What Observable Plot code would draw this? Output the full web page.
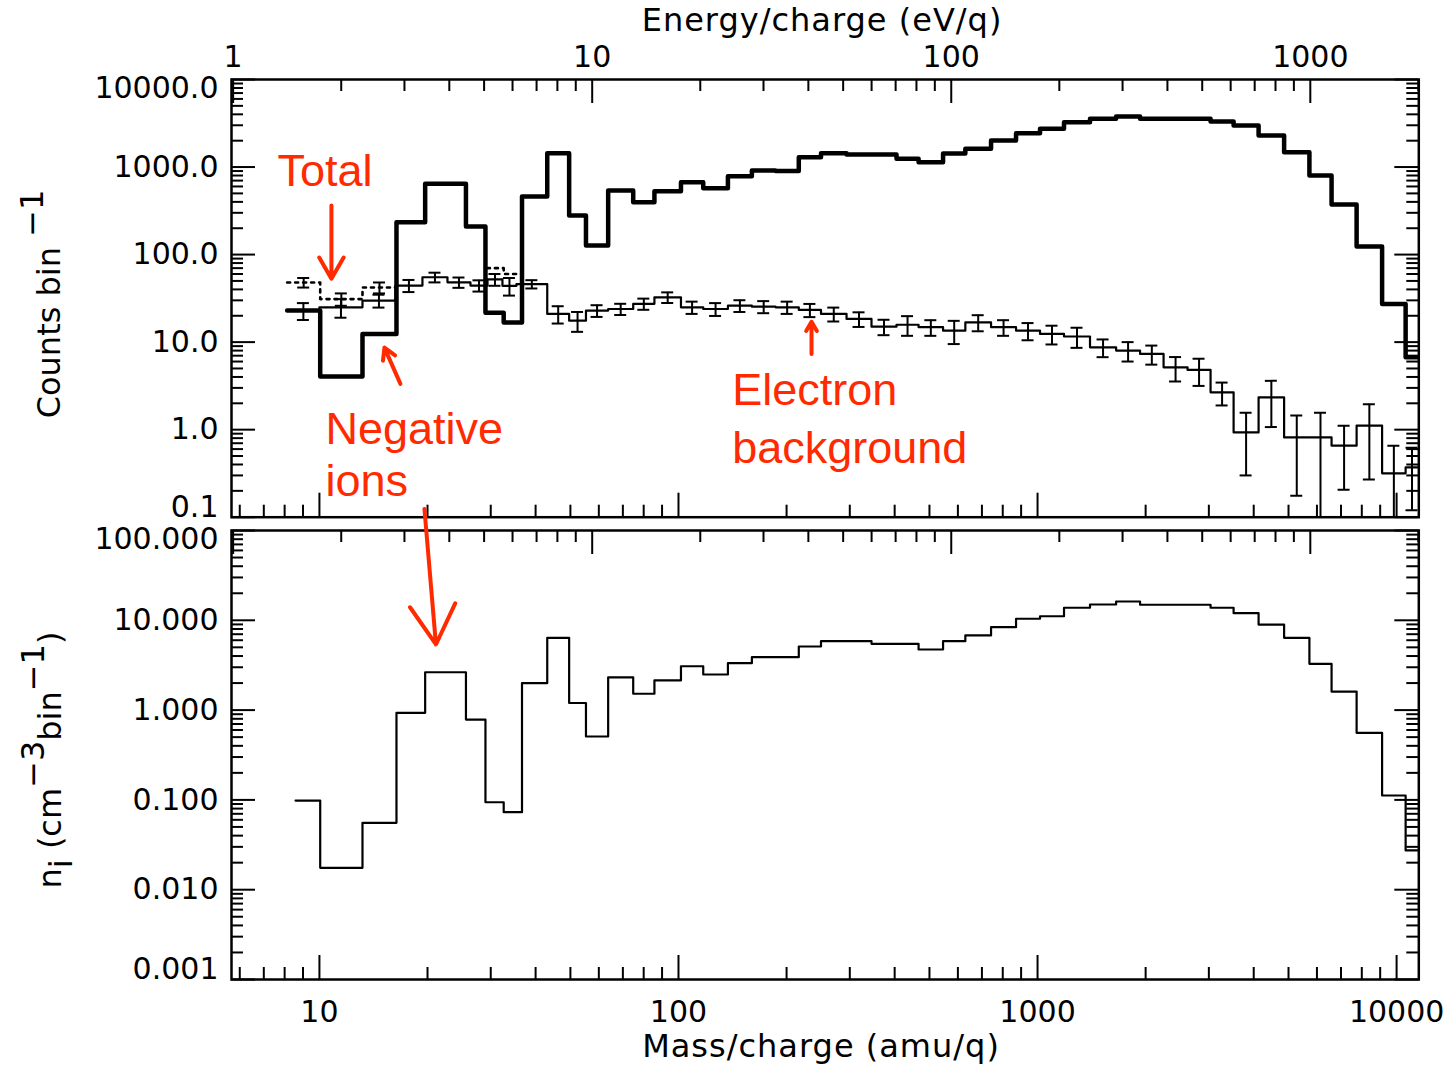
<!DOCTYPE html>
<html><head><meta charset="utf-8">
<script src="https://cdn.jsdelivr.net/npm/d3@7"></script>
<script src="https://cdn.jsdelivr.net/npm/@observablehq/plot@0.6"></script>
<style>
html,body{margin:0;padding:0;background:#fff;overflow:hidden;}
#chart{position:relative;width:1455px;height:1069px;overflow:hidden;background:#fff;}
#chart svg{position:absolute;left:0;top:0;background:transparent;}
</style></head><body><div id="chart"></div>
<script>
// ---------------- data ----------------
// mass/charge bin edges (amu/q) of the ion count and density histograms
const massEdges = [8.13, 10.05, 13.18, 16.39, 19.70, 25.59, 29.0, 32.6, 36.66, 43.1, 49.6, 55.25, 63.7, 74.8, 85.7, 101.6, 117.2, 137.3, 160.1, 186.3, 216.3, 249.4, 293.8, 344.8, 404.8, 466.3, 545.6, 629.4, 742.2, 871.2, 1016, 1185, 1400, 1655, 1930, 2244, 2617, 3033, 3516, 4127, 4861, 5717, 6590, 7738, 9112, 10596, 11500];
// negative ion counts per bin (thick line, top panel)
const ionCounts = [22.9, 4.04, 12.4, 234, 643, 209, 21.7, 16.7, 460, 1440, 279, 127, 538, 396, 528, 670, 573, 785, 912, 900, 1294, 1440, 1389, 1389, 1241, 1135, 1426, 1615, 2009, 2433, 2733, 3253, 3556, 3777, 3556, 3556, 3556, 3311, 2981, 2291, 1476, 800, 373, 124, 27.3, 6.7];
// total counts (dotted line), first bins only
const totalCounts = [48, 31, 42, 234, 643, 209, 70, 60, 460];
const totalErr = [6, 5, 6];
// electron background bins, counts and error bars
const bgEdges = [8.14, 10.0, 13.18, 16.28, 19.36, 22.73, 26.34, 29.38, 32.34, 35.38, 43.1, 49.6, 55.25, 63.7, 74.8, 85.7, 101.6, 117.2, 137.3, 160.1, 186.3, 216.3, 249.4, 293.8, 344.8, 404.8, 466.3, 545.6, 629.4, 742.2, 871.2, 1016, 1185, 1400, 1655, 1930, 2244, 2617, 3033, 3516, 4127, 4861, 5717, 6590, 7738, 9112, 10596, 11500];
const bgCounts = [22.9, 25, 29.8, 44.3, 55.1, 48.2, 44.3, 52, 44, 46, 21, 17.6, 22.9, 23.9, 27.4, 32.5, 25, 23.9, 26.1, 25.4, 25, 23.3, 21, 18.4, 15, 15.8, 14.8, 13.5, 16.8, 14.8, 13.5, 12.4, 11.6, 8.73, 8.0, 7.33, 5.15, 4.81, 2.67, 0.93, 2.34, 0.816, 0.816, 0.656, 1.11, 0.317, 0.37];
const bgErr = [5, 6, 5, 7, 7, 6.5, 6.5, 8, 10, 5, 4.7, 4.5, 3.5, 3.5, 4, 4.5, 4, 4, 4, 4, 4, 4, 3.8, 3.5, 3, 4, 3, 4, 3.5, 3, 3, 3, 3, 2, 2, 1.8, 1.6, 1.65, 0.78, 0.63, 1.27, 0.64, 0.74, 0.45, 0.84, 0.34, 0.25];
// ion density n_i (cm^-3 bin^-1), bottom panel
const niEdges = [8.58, 10.05, 13.18, 16.39, 19.70, 25.59, 29.0, 32.6, 36.66, 43.1, 49.6, 55.25, 63.7, 74.8, 85.7, 101.6, 117.2, 137.3, 160.1, 186.3, 216.3, 249.4, 293.8, 344.8, 404.8, 466.3, 545.6, 629.4, 742.2, 871.2, 1016, 1185, 1400, 1655, 1930, 2244, 2617, 3033, 3516, 4127, 4861, 5717, 6590, 7738, 9112, 10596, 11500];
const niDensity = [0.0984, 0.01754, 0.0556, 0.933, 2.64, 0.785, 0.0942, 0.073, 2.0, 6.38, 1.2, 0.508, 2.32, 1.52, 2.14, 3.08, 2.49, 3.33, 3.88, 3.88, 5.11, 5.85, 5.85, 5.47, 5.47, 4.73, 5.85, 6.78, 8.38, 10.4, 11.1, 13.8, 15.0, 16.2, 14.9, 14.9, 14.9, 13.8, 12.0, 8.97, 6.38, 3.28, 1.61, 0.558, 0.112, 0.0274];

// axes
const massDomain = [5.69, 11530];
const countDomain = [0.1, 10000];
const densityDomain = [0.001, 100];
const massPerEnergy = 5.75;            // amu/q per eV/q
const energyLabels = [1, 10, 100, 1000];
const massLabels = [10, 100, 1000, 10000];
const countLabels = [0.1, 1, 10, 100, 1000, 10000];
const densityLabels = [0.001, 0.01, 0.1, 1, 10, 100];

// annotations (data coordinates)
const topNotes = [
  {text: "Total", mass: 7.64, counts: 615},
  {text: "Negative", mass: 10.39, counts: 0.687},
  {text: "ions", mass: 10.39, counts: 0.176},
  {text: "Electron", mass: 141.1, counts: 1.93},
  {text: "background", mass: 141.1, counts: 0.416}
];
const topArrows = [
  {m1: 10.8, c1: 363, m2: 10.8, c2: 53},
  {m1: 16.81, c1: 3.33, m2: 15.17, c2: 8.65},
  {m1: 234.7, c1: 7.33, m2: 234.7, c2: 17.1}
];
const bottomArrows = [
  {m1: 19.61, n1: 174, m2: 21.11, n2: 5.38}
];

// ---------------- helpers ----------------
const W = 1455, H = 1069;
const mL = 231, mR = W - 1418.3;
const plotW = W - mL - mR;
const red = "#ff2a00";
const axisFont = "DejaVu Sans";
const noteFont = "Liberation Sans, Arial, sans-serif";

const steps = (edges, vals) => edges.slice(0, vals.length + 1).map((e, i) => ({x: e, y: vals[Math.min(i, vals.length - 1)]}));
const centers = (edges, n) => edges.slice(0, n).map((e, i) => Math.sqrt(e * edges[i + 1]));
function decadeMinors(lo, hi) {
  const out = [];
  for (let p = Math.floor(Math.log10(lo)); p <= Math.ceil(Math.log10(hi)); p++)
    for (let d = 2; d <= 9; d++) { const v = d * Math.pow(10, p); if (v > lo && v < hi) out.push(v); }
  return out;
}
const energyMajor = energyLabels.map(e => e * massPerEnergy);
const energyMinor = decadeMinors(1, 2001).map(e => e * massPerEnergy);
const massMinor = decadeMinors(massDomain[0], massDomain[1]);

function frameTicks(yMajor, yMinor, ph) {
  const MAJ = 24, MIN = 12, sw = 2;
  return [
    Plot.tickY(yMajor, {insetRight: plotW - MAJ, strokeWidth: sw}),
    Plot.tickY(yMinor, {insetRight: plotW - MIN, strokeWidth: sw}),
    Plot.tickY(yMajor, {insetLeft: plotW - MAJ, strokeWidth: sw}),
    Plot.tickY(yMinor, {insetLeft: plotW - MIN, strokeWidth: sw}),
    Plot.tickX(energyMajor, {insetBottom: ph - MAJ, strokeWidth: sw}),
    Plot.tickX(energyMinor, {insetBottom: ph - MIN, strokeWidth: sw}),
    Plot.tickX(massLabels, {insetTop: ph - MAJ, strokeWidth: sw}),
    Plot.tickX(massMinor, {insetTop: ph - MIN, strokeWidth: sw}),
    Plot.frame({strokeWidth: 2.5})
  ];
}
function yLabels(values, fmt) {
  const common = {anchor: "left", tickSize: 0, tickPadding: 13, tickFormat: fmt, label: null, fontSize: 30};
  return [
    Plot.axisY({...common, ticks: values.slice(1, -1)}),
    Plot.axisY({...common, ticks: [values[values.length - 1]], dy: 9}),
    Plot.axisY({...common, ticks: [values[0]], dy: -10})
  ];
}

// ---------------- top panel ----------------
const topTop = 79, topBottom = 516.7, topH = 530;
const bgC = centers(bgEdges, bgCounts.length);
const bgBars = bgCounts.map((v, i) => ({x: bgC[i], lo: Math.max(v - bgErr[i], 1e-4), hi: v + bgErr[i]}));
const totC = centers(massEdges, totalErr.length);
const totBars = totalErr.map((e, i) => ({x: totC[i], lo: totalCounts[i] - e, hi: totalCounts[i] + e}));
const errMarks = (bars, sw) => [
  Plot.ruleX(bars, {x: "x", y1: "lo", y2: "hi", strokeWidth: sw, clip: true}),
  Plot.ruleY(bars, {x1: "x", x2: "x", y: "hi", insetLeft: -6, insetRight: -6, strokeWidth: sw, clip: true}),
  Plot.ruleY(bars, {x1: "x", x2: "x", y: "lo", insetLeft: -6, insetRight: -6, strokeWidth: sw, clip: true})
];

const topPlot = Plot.plot({
  width: W, height: topH,
  marginLeft: mL, marginRight: mR, marginTop: topTop, marginBottom: topH - topBottom,
  x: {type: "log", domain: massDomain, axis: null},
  y: {type: "log", domain: countDomain, axis: null},
  style: {fontFamily: axisFont, fontSize: "30px", background: "transparent", color: "black"},
  marks: [
    ...frameTicks(countLabels, decadeMinors(countDomain[0], countDomain[1]), topBottom - topTop),
    ...yLabels(countLabels, d3.format(".1f")),
    Plot.text(energyMajor, {x: d => d, text: d => String(Math.round(d / massPerEnergy)),
      frameAnchor: "top", lineAnchor: "bottom", dy: -13, fontSize: 30, fontFamily: axisFont}),
    Plot.line(steps(bgEdges, bgCounts), {x: "x", y: "y", curve: "step-after", strokeWidth: 2.2, clip: true}),
    ...errMarks(bgBars, 2),
    Plot.line(steps(massEdges, totalCounts), {x: "x", y: "y", curve: "step-after", strokeWidth: 2.6, strokeDasharray: "3,5", clip: true}),
    ...errMarks(totBars, 2),
    Plot.line(steps(massEdges, ionCounts), {x: "x", y: "y", curve: "step-after", strokeWidth: 4.5, clip: true}),
    Plot.text(topNotes, {x: "mass", y: "counts", text: "text", textAnchor: "start", lineAnchor: "bottom",
      fontSize: 45, fill: red, fontFamily: noteFont}),
    Plot.arrow(topArrows, {x1: "m1", y1: "c1", x2: "m2", y2: "c2", stroke: red, strokeWidth: 4, headLength: 22, headAngle: 60})
  ]
});

// ---------------- bottom panel ----------------
const botTop = 530, botBottom = 979;
const bottomPlot = Plot.plot({
  width: W, height: H,
  marginLeft: mL, marginRight: mR, marginTop: botTop, marginBottom: H - botBottom,
  x: {type: "log", domain: massDomain, axis: null},
  y: {type: "log", domain: densityDomain, axis: null},
  style: {fontFamily: axisFont, fontSize: "30px", background: "transparent", color: "black"},
  marks: [
    ...frameTicks(densityLabels, decadeMinors(densityDomain[0], densityDomain[1]), botBottom - botTop),
    ...yLabels(densityLabels, d3.format(".3f")),
    Plot.axisX({anchor: "bottom", ticks: massLabels, tickFormat: d => String(d),
      tickSize: 0, tickPadding: 21, label: null, fontSize: 30}),
    Plot.line(steps(niEdges, niDensity), {x: "x", y: "y", curve: "step-after", strokeWidth: 2.2, clip: true}),
    Plot.arrow(bottomArrows, {x1: "m1", y1: "n1", x2: "m2", y2: "n2", stroke: red, strokeWidth: 4, headLength: 22, headAngle: 60})
  ]
});

const chart = document.getElementById("chart");
chart.appendChild(topPlot);
chart.appendChild(bottomPlot);

// ---------------- titles ----------------
function title(svg, x, y, rotate, parts) {
  const t = d3.select(svg).append("text")
    .attr("transform", `translate(${x},${y})` + (rotate ? " rotate(-90)" : ""))
    .attr("text-anchor", "middle")
    .attr("font-family", axisFont).attr("font-size", 32).attr("letter-spacing", rotate ? 0 : 1)
    .attr("fill", "black");
  parts.forEach(([s, dy]) => t.append("tspan").attr("dy", dy).text(s));
}
title(topPlot, 822, 31, false, [["Energy/charge (eV/q)", 0]]);
title(bottomPlot, 821, 1057, false, [["Mass/charge (amu/q)", 0]]);
title(topPlot, 60, 304, true, [["Counts bin ", 0], ["\u22121", -17]]);
title(bottomPlot, 61, 760, true, [["n", 0], ["i", 11], [" (cm", -11], ["\u22123", -17], ["bin", 17], ["\u22121", -17], [")", 17]]);
</script>
</body></html>
